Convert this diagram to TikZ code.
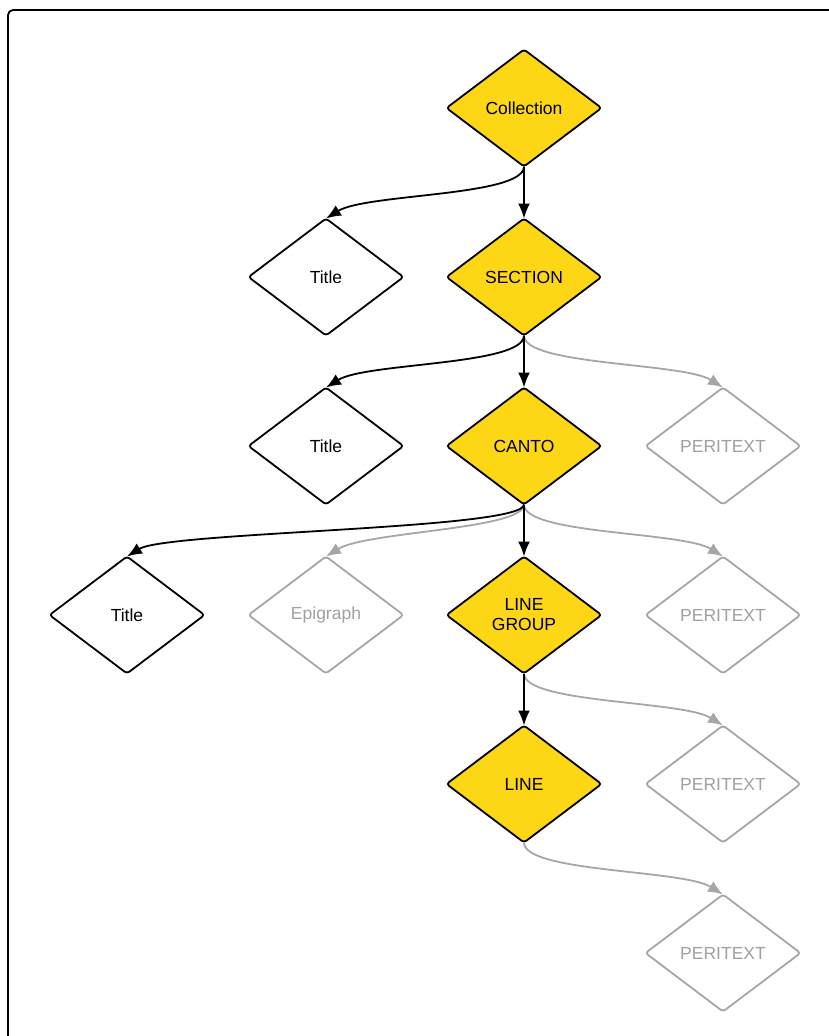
\documentclass[tikz,border=0pt]{standalone}
\usepackage{fontspec}
\setmainfont{Liberation Sans}
\usetikzlibrary{shapes.geometric,arrows.meta}
\definecolor{gold}{RGB}{253,214,22}
\definecolor{pale}{RGB}{166,166,166}
\definecolor{paletext}{RGB}{160,160,160}
\tikzset{
  dia/.style={diamond, draw, line width=1.8pt, rounded corners=3pt, inner sep=0pt, outer sep=0pt,
    minimum width=155pt, minimum height=117pt, align=center, font=\fontsize{17.5}{20}\selectfont},
  filled/.style={dia, fill=gold},
  plain/.style={dia, fill=white},
  ghost/.style={dia, draw=pale, text=paletext},
  conn/.style={line width=1.8pt, -{Latex[length=15pt,width=12pt]}},
  gconn/.style={conn, draw=pale, -{Latex[length=15pt,width=12pt,fill=pale]}},
  frame/.style={line width=1.8pt, rounded corners=5pt}
}
\begin{document}
\begin{tikzpicture}[x=1pt,y=-1pt]
\useasboundingbox (0,0) rectangle (829,1036);
\draw[frame] (8,1036) -- (8,10) -- (829,10);

\node[filled] (col) at (524,108) {Collection};
\node[filled] (sec) at (524,277) {SECTION};
\node[plain]  (t1)  at (326,277) {Title};
\node[filled] (can) at (524,446) {CANTO};
\node[plain]  (t2)  at (326,446) {Title};
\node[ghost]  (p1)  at (723,446) {PERITEXT};
\node[filled] (lg)  at (524,615) {LINE\\GROUP};
\node[plain]  (t3)  at (127,615) {Title};
\node[ghost]  (epi) at (326,615) {Epigraph};
\node[ghost]  (p2)  at (723,615) {PERITEXT};
\node[filled] (ln)  at (524,784) {LINE};
\node[ghost]  (p3)  at (723,784) {PERITEXT};
\node[ghost]  (p4)  at (723,953) {PERITEXT};

% gray connectors
\draw[gconn] (sec.south) .. controls +(0,30) and +(-40,-25) .. (p1.north);
\draw[gconn] (can.south) .. controls +(0,30) and +(-40,-25) .. (p2.north);
\draw[gconn] (can.south) .. controls +(0,25) and +(40,-25) .. (epi.north);
\draw[gconn] (lg.south) .. controls +(0,30) and +(-40,-25) .. (p3.north);
\draw[gconn] (ln.south) .. controls +(0,30) and +(-40,-25) .. (p4.north);

% black connectors
\draw[conn] (col.south) .. controls +(0,30) and +(40,-25) .. (t1.north);
\draw[conn] (col.south) -- (sec.north);
\draw[conn] (sec.south) .. controls +(0,30) and +(40,-25) .. (t2.north);
\draw[conn] (sec.south) -- (can.north);
\draw[conn] (can.south) .. controls +(0,25) and +(40,-25) .. (t3.north);
\draw[conn] (can.south) -- (lg.north);
\draw[conn] (lg.south) -- (ln.north);
\end{tikzpicture}
\end{document}
